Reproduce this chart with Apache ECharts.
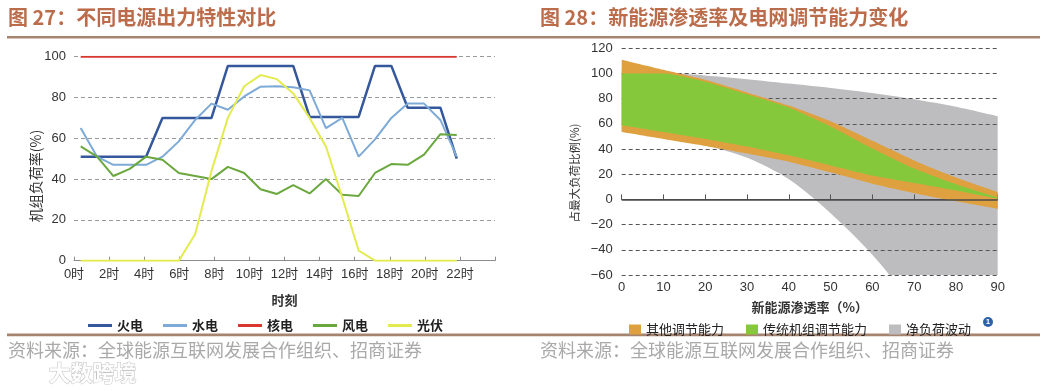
<!DOCTYPE html>
<html><head><meta charset="utf-8">
<script src="https://cdn.jsdelivr.net/npm/echarts@6/dist/echarts.min.js"></script>
<style>html,body{margin:0;padding:0;background:#fff}#c{width:1063px;height:391px}</style>
</head><body><div id="c"></div>
<script>
// ---------- Figure 27 data (hourly samples, index 0..23) ----------
const hourIdx = [0,1,2,3,4,5,6,7,8,9,10,11,12,13,14,15,16,17,18,19,20,21,22,23];
const hourTicks = [0,2,4,6,8,10,12,14,16,18,20,22,24];
const thermal = [51,51,51,51,51,70,70,70,70,95.5,95.5,95.5,95.5,95.5,70.5,70.5,70.5,70.5,95.5,95.5,75,75,75,50];
const hydro   = [65,51,47,47,47,51,58.5,69,77,74,80.5,85.3,85.5,85,83.5,65,70,51,59.5,70,77,77,69,51];
const nuclear = [100,100,100,100,100,100,100,100,100,100,100,100,100,100,100,100,100,100,100,100,100,100,100,100];
const wind    = [56,51,41.5,45,51,49.5,43,41.5,40,46,43,35,32.7,37,33,40,32.3,31.7,43,47.4,47,52,62,61.6];
const solar   = [0,0,0,0,0,0,0,13,44,70,85.5,91,89,82,70,56,31,5,0,0,0,0,0,0];
const leftNames = ['火电','水电','核电','风电','光伏'];

// ---------- Figure 28 data (penetration %, 0..90) ----------
const pen = ['0','10','20','30','40','50','60','70','80','90'];
const otherUpper = [111,103,95,85,74.5,62,46.5,31,17.5,6];
const tradUpper  = [100,100,93.5,83.5,73,58,40.5,24.5,12,1.5];
const tradLower  = [59,53.5,48,42,35,27,19,13,7,0.5];
const otherLower = [53.5,48,42.5,36.5,30,21.5,12.5,5,-1.5,-7.5];
const netUpper   = [103,101,98.5,95.5,92,88.5,84.5,79.5,73.5,66];
const netLower   = [54,50,43,33,16,-11,-44,-85,-130,-180];
const rightNames = ['其他调节能力','传统机组调节能力','净负荷波动'];

const FONT = '"Liberation Sans","Noto Sans CJK SC",sans-serif';
const CJK = '"Noto Sans CJK SC",sans-serif';
const leftColors = ['#34589b','#7eaad8','#d8392f','#6aa83e','#e3eb4e'];
const cOther = '#dfa13f', cTrad = '#86c83c', cNet = '#bdbdbf';

const chart = echarts.init(document.getElementById('c'), null, {renderer:'canvas'});

const leftSeries = [thermal, hydro, nuclear, wind, solar].map((vals, k) => ({
  name: leftNames[k], type: 'line', xAxisIndex: 1, yAxisIndex: 0,
  data: hourIdx.map((h, i) => [h, vals[i]]),
  symbol: 'none', lineStyle: {width: k === 0 ? 2.5 : 2, color: leftColors[k]},
  itemStyle: {color: leftColors[k]}, z: 2 + k
}));

function band(name, lower, upper, color, stackId, z, smooth, extra) {
  const base = {
    name: stackId + '_base', type: 'line', xAxisIndex: 2, yAxisIndex: 1,
    stack: stackId, stackStrategy: 'all', silent: true, symbol: 'none', smooth: smooth,
    lineStyle: {width: 0, opacity: 0}, data: lower.slice(), z: z
  };
  const top = Object.assign({
    name: name, type: 'line', xAxisIndex: 2, yAxisIndex: 1,
    stack: stackId, stackStrategy: 'all', silent: true, symbol: 'none', smooth: smooth,
    lineStyle: {width: 0, opacity: 0}, itemStyle: {color: color},
    areaStyle: {color: color, opacity: 1},
    data: upper.map((u, i) => u - lower[i]), z: z
  }, extra || {});
  return [base, top];
}

const rightSeries = [].concat(
  band('净负荷波动', netLower, netUpper, cNet, 'net', -1, 0.3),
  band('其他调节能力', otherLower, otherUpper, cOther, 'oth', 2, 0.2),
  band('传统机组调节能力', tradLower, tradUpper, cTrad, 'trd', 3, 0.2, {
    markLine: {silent: true, symbol: 'none', label: {show: false},
      lineStyle: {color: '#4a4a4a', width: 1.5, type: 'solid'}, data: [{yAxis: 0}]}
  })
);

const option = {
  animation: false,
  backgroundColor: '#fff',
  textStyle: {fontFamily: FONT},
  grid: [
    {left: 74, right: 1063 - 495, top: 56.7, bottom: 391 - 260.7, containLabel: false},
    {left: 621.7, right: 1063 - 997.7, top: 48.3, bottom: 391 - 275, containLabel: false}
  ],
  legend: [
    {data: leftNames, left: 83, top: 314, icon: 'rect', itemWidth: 24, itemHeight: 3, itemGap: 20,
     textStyle: {fontSize: 13, fontWeight: 'bold', color: '#222', fontFamily: CJK}, selectedMode: false},
    {data: rightNames, left: 624, top: 318, icon: 'rect', itemWidth: 12, itemHeight: 10, itemGap: 22,
     textStyle: {fontSize: 13, color: '#222', fontFamily: CJK}, selectedMode: false}
  ],
  xAxis: [
    {gridIndex: 0, type: 'value', min: 0, max: 24, interval: 2,
     axisLine: {lineStyle: {color: '#8c8c8c'}},
     axisTick: {inside: true, length: 4, lineStyle: {color: '#8c8c8c'}},
     axisLabel: {color: '#333', fontSize: 13, margin: 7, fontFamily: FONT,
       formatter: v => hourTicks.indexOf(v) >= 0 && v < 24 ? v + '时' : ''},
     splitLine: {show: false},
     name: '时刻', nameLocation: 'middle', nameGap: 33,
     nameTextStyle: {fontSize: 13, fontWeight: 'bold', color: '#333', fontFamily: CJK}},
    {gridIndex: 0, type: 'value', min: -0.41, max: 25.34, show: false},
    {gridIndex: 1, type: 'category', data: pen, boundaryGap: false,
     axisLine: {lineStyle: {color: '#555'}},
     axisTick: {inside: true, length: 5, interval: 0, lineStyle: {color: '#555'}},
     axisLabel: {color: '#333', fontSize: 13, margin: 6, interval: 0, fontFamily: FONT},
     splitLine: {show: false},
     name: '新能源渗透率（%）', nameLocation: 'middle', nameGap: 26,
     nameTextStyle: {fontSize: 13, fontWeight: 'bold', color: '#333', fontFamily: CJK}}
  ],
  yAxis: [
    {gridIndex: 0, type: 'value', min: 0, max: 100, interval: 20,
     axisLine: {show: false}, axisTick: {show: false},
     axisLabel: {color: '#333', fontSize: 13, margin: 8, fontFamily: FONT},
     splitLine: {lineStyle: {color: '#9a9a9a', type: [4, 3], width: 1}}},
    {gridIndex: 1, type: 'value', min: -60, max: 120, interval: 20,
     axisLine: {show: false}, axisTick: {show: false},
     axisLabel: {color: '#333', fontSize: 13, margin: 9, fontFamily: FONT,
       formatter: v => v < 0 ? '\u2212' + (-v) : String(v)},
     splitLine: {lineStyle: {color: '#555', type: [4, 3], width: 1}}}
  ],
  series: leftSeries.concat(rightSeries),
  graphic: [
    {type: 'text', left: 8, top: 7, style: {text: '图 27：不同电源出力特性对比', font: 'bold 20px ' + CJK, fill: '#bb6c4b'}},
    {type: 'text', left: 540, top: 7, style: {text: '图 28：新能源渗透率及电网调节能力变化', font: 'bold 20px ' + CJK, fill: '#bb6c4b'}},
    {type: 'rect', shape: {x: 7, y: 36, width: 1033, height: 2.6}, style: {fill: '#a7846f'}},
    {type: 'rect', shape: {x: 7, y: 333.5, width: 1033, height: 2.8}, style: {fill: '#a7846f'}},
    {type: 'text', x: 36, y: 176, rotation: Math.PI / 2,
     style: {text: '机组负荷率(%)', font: '14px ' + CJK, fill: '#333', align: 'center', verticalAlign: 'middle'}},
    {type: 'text', x: 575, y: 173, rotation: Math.PI / 2,
     style: {text: '占最大负荷比例(%)', font: '11.5px ' + CJK, fill: '#333', align: 'center', verticalAlign: 'middle'}},
    {type: 'text', left: 8, top: 341, style: {text: '资料来源：全球能源互联网发展合作组织、招商证券', font: '18px ' + CJK, fill: '#a9a9a9'}},
    {type: 'text', left: 540, top: 341, style: {text: '资料来源：全球能源互联网发展合作组织、招商证券', font: '18px ' + CJK, fill: '#a9a9a9'}},
    {type: 'text', left: 48, top: 361, style: {text: '大数跨境', font: 'bold 22px ' + CJK, fill: 'rgba(255,255,255,0.9)', stroke: '#c4c4c4', lineWidth: 1}},
    {type: 'circle', shape: {cx: 988, cy: 322, r: 5}, style: {fill: '#2d62a6'}},
    {type: 'text', x: 988, y: 322, style: {text: '1', font: 'bold 8px ' + FONT, fill: '#fff', align: 'center', verticalAlign: 'middle'}}
  ]
};
chart.setOption(option);
</script>
</body></html>
